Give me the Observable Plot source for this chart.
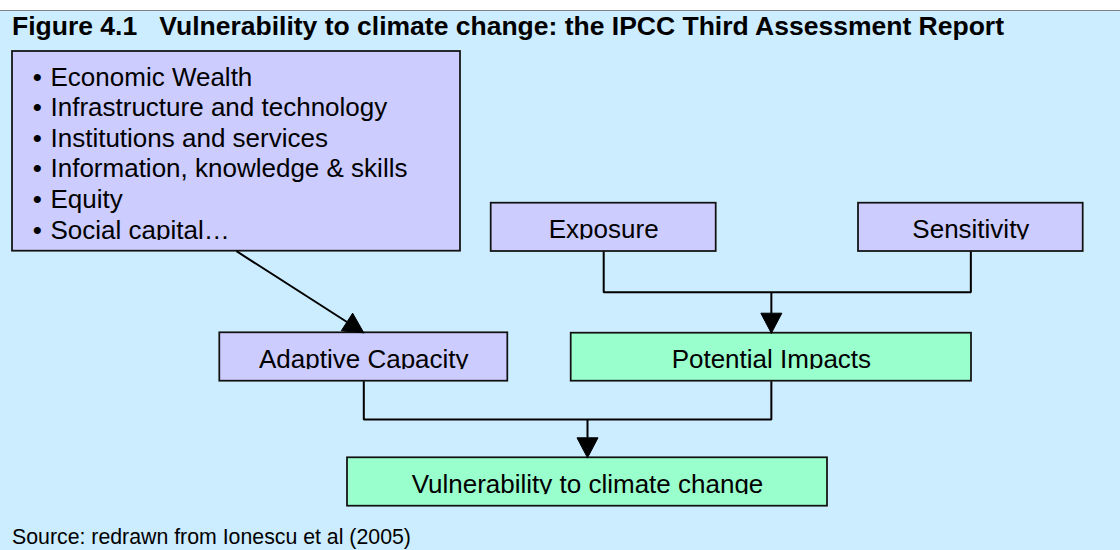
<!DOCTYPE html>
<html><head><meta charset="utf-8">
<script src="https://cdn.jsdelivr.net/npm/d3@7"></script>
<script src="https://cdn.jsdelivr.net/npm/@observablehq/plot@0.6"></script>
<style>
html,body{margin:0;padding:0;background:#fff;}
#panel{position:absolute;left:0;top:10px;width:1120px;height:540px;border-top:1px solid #808080;background:#CCECFF;overflow:hidden;font-family:"Liberation Sans",Arial,sans-serif;color:#000;}
#title{position:absolute;left:12px;top:0;margin:0;font-size:26.5px;font-weight:bold;line-height:30px;white-space:pre;}
#chart{position:absolute;left:0;top:30px;}
#source{position:absolute;left:12px;top:512px;font-size:21.3px;line-height:28px;white-space:pre;}
</style></head>
<body>
<div id="panel"><div id="title"></div><div id="chart"></div><div id="source"></div></div>
<script>
// ---------- content ----------
const titleText = "Figure 4.1   Vulnerability to climate change: the IPCC Third Assessment Report";
const sourceText = "Source: redrawn from Ionescu et al (2005)";
const factors = ["Economic Wealth", "Infrastructure and technology", "Institutions and services",
  "Information, knowledge & skills", "Equity", "Social capital…"];
const nodes = ["Determinants", "Exposure", "Sensitivity", "Adaptive Capacity", "Potential Impacts",
  "Vulnerability to climate change"];
const nodeGroup = ["input", "input", "input", "input", "outcome", "outcome"];
const links = [
  ["Determinants", "Adaptive Capacity"],
  ["Exposure", "Potential Impacts"],
  ["Sensitivity", "Potential Impacts"],
  ["Adaptive Capacity", "Vulnerability to climate change"],
  ["Potential Impacts", "Vulnerability to climate change"]
];

// ---------- layout (page pixels) ----------
const boxes = {
  "Determinants": {x1: 12, x2: 460, y1: 51, y2: 250.7},
  "Exposure": {x1: 490.7, x2: 715.7, y1: 202.7, y2: 251},
  "Sensitivity": {x1: 858, x2: 1082.7, y1: 202.7, y2: 251},
  "Adaptive Capacity": {x1: 219.3, x2: 507.3, y1: 332.3, y2: 380.7},
  "Potential Impacts": {x1: 570.7, x2: 971, y1: 332.7, y2: 380.7},
  "Vulnerability to climate change": {x1: 347, x2: 827, y1: 457.3, y2: 505.7}
};
const font = "Liberation Sans, Arial, sans-serif";
const labelSize = 26;
const bulletX = 36.7, bulletTextX = 50, firstBaseline = 85, lineStep = 30.66;
const headLen = 20, headHalf = 10.5;

document.getElementById("title").textContent = titleText;
document.getElementById("source").textContent = sourceText;

const nodeData = nodes.map((name, i) => {
  const b = boxes[name];
  const list = name === "Determinants";
  const baseline = list ? firstBaseline + (factors.length - 1) * lineStep : b.y2 - 13.3;
  return {name, group: nodeGroup[i], ...b, cx: (b.x1 + b.x2) / 2, baseline, clipY: baseline + 1.7, list};
});
const labelData = nodeData.filter(d => !d.list);
const bulletData = factors.map((text, i) => ({text, y: firstBaseline + i * lineStep}));

// connectors
const connPts = [], shaftPts = [], headPts = [];
for (const [t, ls] of d3.group(links, d => d[1])) {
  const tb = boxes[t];
  const tx = (tb.x1 + tb.x2) / 2, ty = tb.y1;
  let sx, sy;
  if (ls.length === 1) {
    const sb = boxes[ls[0][0]];
    sx = (sb.x1 + sb.x2) / 2; sy = sb.y2;
  } else {
    const src = ls.map(l => { const b = boxes[l[0]]; return {x: (b.x1 + b.x2) / 2, y: b.y2}; })
      .sort((a, b) => a.x - b.x);
    const my = (d3.max(src, d => d.y) + ty) / 2;
    const a = src[0], z = src[src.length - 1];
    [[a.x, a.y], [a.x, my], [z.x, my], [z.x, z.y]].forEach(([x, y]) => connPts.push({id: t, x, y}));
    sx = tx; sy = my;
  }
  const len = Math.hypot(tx - sx, ty - sy), ux = (tx - sx) / len, uy = (ty - sy) / len;
  const bx = tx - headLen * ux, by = ty - headLen * uy;
  shaftPts.push({id: t, x: sx, y: sy}, {id: t, x: bx, y: by});
  [[tx, ty], [bx - headHalf * uy, by + headHalf * ux], [bx + headHalf * uy, by - headHalf * ux], [tx, ty]]
    .forEach(([x, y]) => headPts.push({id: t, x, y}));
}

const W = 1120, H = 482, top0 = 41;
const chart = Plot.plot({
  width: W, height: H,
  marginTop: 0, marginRight: 0, marginBottom: 0, marginLeft: 0,
  style: {background: "transparent", overflow: "visible"},
  x: {domain: [0, W], range: [0, W], axis: null},
  y: {domain: [top0, top0 + H], range: [0, H], axis: null},
  color: {domain: ["input", "outcome"], range: ["#CCCCFF", "#99FFCC"]},
  marks: [
    Plot.rect(nodeData, {x1: "x1", x2: "x2", y1: "y1", y2: "y2", fill: "group"}),
    Plot.text(labelData, {x: "cx", y: "baseline", text: "name", textAnchor: "middle", lineAnchor: "bottom",
      fontSize: labelSize, fontFamily: font, fill: "#000"}),
    Plot.text(bulletData, {x: bulletX, y: "y", text: () => "•", textAnchor: "middle", lineAnchor: "bottom",
      fontSize: labelSize, fontFamily: font, fill: "#000"}),
    Plot.text(bulletData, {x: bulletTextX, y: "y", text: "text", textAnchor: "start", lineAnchor: "bottom",
      fontSize: labelSize, fontFamily: font, fill: "#000"}),
    // text frames clip the descenders just under the baseline
    Plot.rect(nodeData, {x1: "x1", x2: "x2", y1: "clipY", y2: "y2", fill: "group"}),
    Plot.rect(nodeData, {x1: "x1", x2: "x2", y1: "y1", y2: "y2", fill: "none", stroke: "#111", strokeWidth: 1.75}),
    Plot.line(connPts, {x: "x", y: "y", z: "id", stroke: "#000", strokeWidth: 2,
      strokeLinejoin: "miter", strokeLinecap: "butt"}),
    Plot.line(shaftPts, {x: "x", y: "y", z: "id", stroke: "#000", strokeWidth: 2, strokeLinecap: "butt"}),
    Plot.line(headPts, {x: "x", y: "y", z: "id", fill: "#000", stroke: "#000", strokeWidth: 1,
      strokeLinejoin: "miter"})
  ]
});
document.getElementById("chart").appendChild(chart);
</script>
</body></html>
